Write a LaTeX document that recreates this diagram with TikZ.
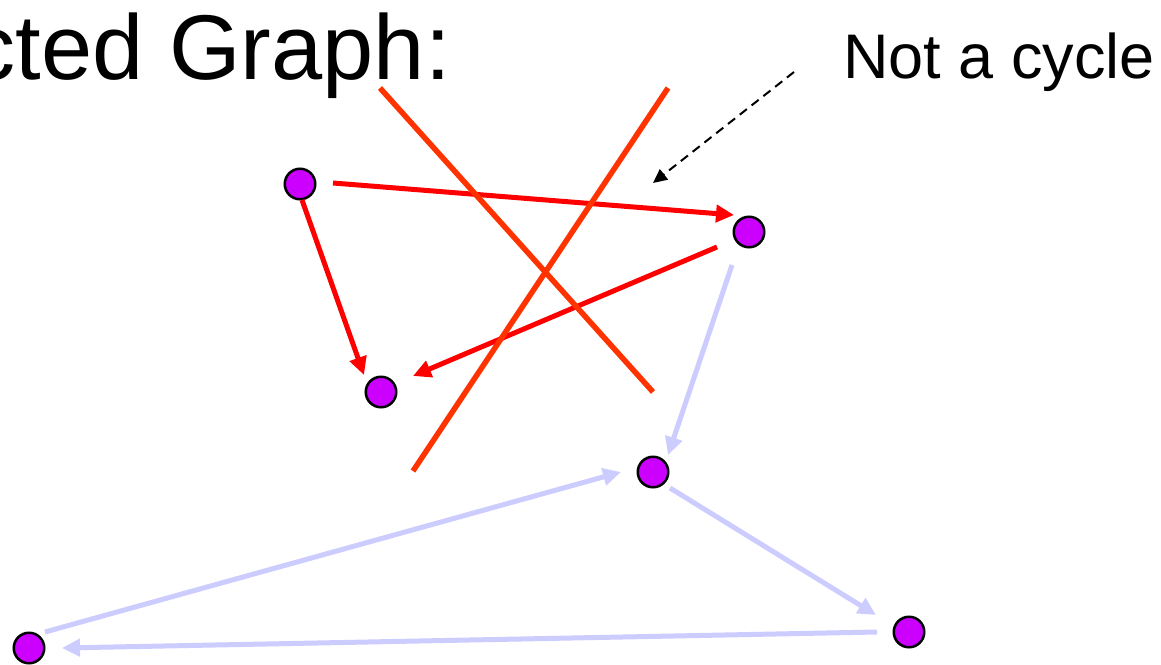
\documentclass[tikz,border=0pt]{standalone}
\usepackage{fontspec}
\setmainfont{Liberation Sans}
\usetikzlibrary{arrows.meta}
\definecolor{vert}{HTML}{CC00FF}
\definecolor{redE}{HTML}{FF0000}
\definecolor{crossc}{HTML}{FF3300}
\definecolor{lav}{HTML}{CCCCFF}
\tikzset{
  vtx/.style={circle, draw=black, line width=2.5pt, fill=vert, minimum size=30.5pt, inner sep=0pt, outer sep=0pt},
  redarrow/.style={draw=redE, line width=5pt, -{Triangle[length=18pt,width=17pt]}},
  lavarrow/.style={draw=lav, line width=5pt, -{Triangle[length=18pt,width=17pt]}},
  crossline/.style={draw=crossc, line width=5.5pt},
  pointer/.style={draw=black, line width=2pt, dash pattern=on 9pt off 6pt, -{Triangle[length=14pt,width=13pt]}},
  bigtext/.style={anchor=base west, inner sep=0pt, outer sep=0pt}
}
\begin{document}
\begin{tikzpicture}[x=1pt,y=1pt]
\useasboundingbox (0,0) rectangle (1161,-664);
\fill[white] (0,0) rectangle (1161,-664);

% title and label
\node[bigtext, font=\fontsize{92}{92}\selectfont] (title) at (-30,-79) {cted Graph:};
\node[bigtext, font=\fontsize{63}{63}\selectfont] (label) at (843,-78) {Not a cycle};

% crossing-out lines
\coordinate (c1a) at (380,-88);
\coordinate (c1b) at (653,-392);
\coordinate (c2a) at (668,-88);
\coordinate (c2b) at (413,-471);

% vertices
\node[vtx] (A) at (300,-184) {};
\node[vtx] (B) at (749,-232) {};
\node[vtx] (C) at (381,-392) {};
\node[vtx] (D) at (653,-472) {};
\node[vtx] (E) at (909,-632) {};
\node[vtx] (F) at (29,-648) {};

% red edges
\draw[redarrow] ([shift={(33,1)}]A.center) -- ([shift={(-15,17)}]B.center);
\draw[redarrow] ([shift={(2,-16)}]A.center) -- ([shift={(-17,17)}]C.center);
\draw[redarrow] ([shift={(-32,-15)}]B.center) -- ([shift={(32,16)}]C.center);

% lavender edges
\draw[lavarrow] ([shift={(-17,-33)}]B.center) -- ([shift={(15,17)}]D.center);
\draw[lavarrow] ([shift={(17,-16)}]D.center) -- ([shift={(-33,17)}]E.center);
\draw[lavarrow] ([shift={(-32,0)}]E.center) -- ([shift={(33,0)}]F.center);
\draw[lavarrow] ([shift={(16,16)}]F.center) -- ([shift={(-32,0)}]D.center);

% crossing lines drawn over
\draw[crossline] (c1a) -- (c1b);
\draw[crossline] (c2a) -- (c2b);

% pointer
\coordinate (p1) at (794,-72);
\coordinate (p2) at (653,-183);
\draw[pointer] (p1) -- (p2);
\end{tikzpicture}
\end{document}
